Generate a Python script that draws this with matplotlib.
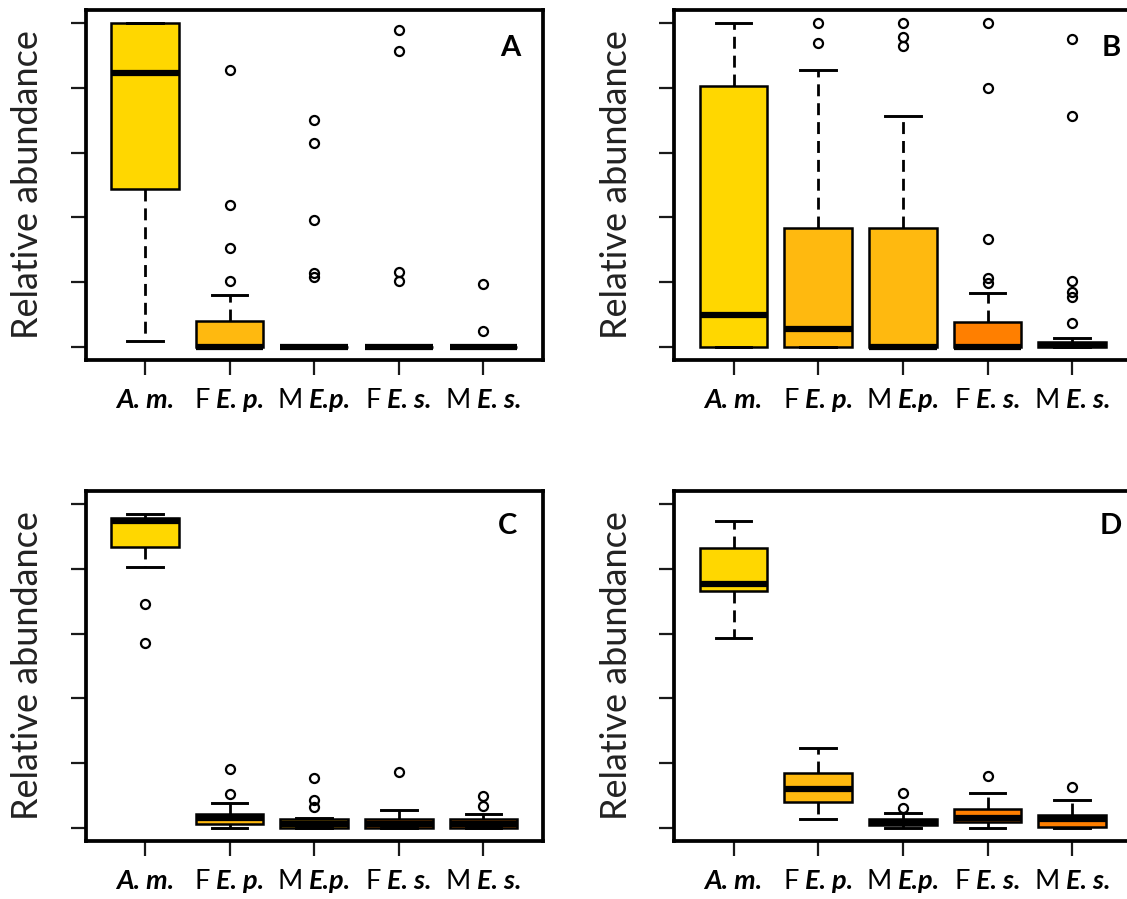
import matplotlib
matplotlib.use("Agg")
import matplotlib.pyplot as plt
from matplotlib.offsetbox import TextArea, HPacker, AnnotationBbox

plt.rcParams['font.family'] = ['Lato', 'DejaVu Sans']

# group labels: plain prefix + italic species part
label_prefix = ["", "F", "M", "F", "M"]
label_species = ["A. m.", "E. p.", "E.p.", "E. s.", "E. s."]
box_colors = ["#FFD700", "#FFB90F", "#FFB90F", "#FF7F00", "#FF7F00"]
panel_letters = ["A", "B", "C", "D"]

# panel A
a_q1 = [0.487, 0.0, 0.0, 0.0, 0.0]
a_med = [0.844, 0.0, 0.0, 0.0, 0.0]
a_q3 = [1.0, 0.08, 0.0, 0.0, 0.0]
a_lo = [0.018, 0.0, 0.0, 0.0, 0.0]
a_hi = [1.0, 0.16, 0.0, 0.0, 0.0]
a_out = [[], [0.204, 0.306, 0.439, 0.854],
         [0.702, 0.63, 0.391, 0.227, 0.215],
         [0.978, 0.913, 0.23, 0.203],
         [0.195, 0.049]]

# panel B
b_q1 = [0.0, 0.0, 0.0, 0.0, 0.0]
b_med = [0.1, 0.057, 0.0, 0.0, 0.005]
b_q3 = [0.806, 0.366, 0.366, 0.078, 0.016]
b_lo = [0.0, 0.0, 0.0, 0.0, 0.0]
b_hi = [1.0, 0.854, 0.712, 0.167, 0.027]
b_out = [[], [1.0, 0.938],
         [1.0, 0.957, 0.93],
         [1.0, 0.798, 0.332, 0.214, 0.198],
         [0.949, 0.712, 0.203, 0.17, 0.155, 0.075]]

# panel C
c_q1 = [0.866, 0.011, 0.0, 0.0, 0.0]
c_med = [0.948, 0.03, 0.012, 0.012, 0.012]
c_q3 = [0.957, 0.043, 0.027, 0.027, 0.027]
c_lo = [0.806, 0.0, 0.0, 0.0, 0.0]
c_hi = [0.97, 0.078, 0.031, 0.056, 0.043]
c_out = [[0.691, 0.57], [0.104, 0.182],
         [0.066, 0.086, 0.153],
         [0.172],
         [0.068, 0.099]]

# panel D
d_q1 = [0.731, 0.079, 0.009, 0.019, 0.004]
d_med = [0.753, 0.12, 0.018, 0.03, 0.028]
d_q3 = [0.863, 0.171, 0.028, 0.059, 0.04]
d_lo = [0.585, 0.027, 0.0, 0.0, 0.0]
d_hi = [0.948, 0.248, 0.045, 0.109, 0.086]
d_out = [[], [], [0.063, 0.107], [0.16], [0.127]]

panels = [
    (a_q1, a_med, a_q3, a_lo, a_hi, a_out),
    (b_q1, b_med, b_q3, b_lo, b_hi, b_out),
    (c_q1, c_med, c_q3, c_lo, c_hi, c_out),
    (d_q1, d_med, d_q3, d_lo, d_hi, d_out),
]

fig = plt.figure(figsize=(11.27, 8.99), dpi=100)

# axes rectangles in figure fraction
ax_rects = [
    [0.076, 0.5996, 0.4055, 0.3893],
    [0.5984, 0.5996, 0.4055, 0.3893],
    [0.076, 0.0645, 0.4055, 0.3893],
    [0.5984, 0.0645, 0.4055, 0.3893],
]
letter_x = [5.32, 5.46, 5.29, 5.46]
letter_y = [0.89, 0.89, 0.90, 0.90]


def make_stats(q1, med, q3, lo, hi, out):
    stats = []
    for i in range(len(q1)):
        stats.append(dict(q1=q1[i], med=med[i], q3=q3[i], whislo=lo[i],
                          whishi=hi[i], fliers=out[i]))
    return stats


for k, (q1, med, q3, lo, hi, out) in enumerate(panels):
    ax = fig.add_axes(ax_rects[k])
    stats = make_stats(q1, med, q3, lo, hi, out)
    bp = ax.bxp(stats, positions=range(1, 6), widths=0.8, capwidths=0.42,
                patch_artist=True, manage_ticks=False,
                boxprops=dict(edgecolor="black", linewidth=1.8),
                medianprops=dict(color="black", linewidth=4.5, solid_capstyle="butt"),
                whiskerprops=dict(color="black", linewidth=2.0, linestyle=(0, (4.3, 2.5))),
                capprops=dict(color="black", linewidth=2.1),
                flierprops=dict(marker="o", markersize=6.5, markerfacecolor="none",
                                markeredgecolor="black", markeredgewidth=1.6))
    for patch, col in zip(bp["boxes"], box_colors):
        patch.set_facecolor(col)

    ax.set_xlim(0.3, 5.7)
    ax.set_ylim(-0.04, 1.04)
    ax.set_xticks(range(1, 6))
    ax.set_xticklabels([])
    ax.set_yticks([0, 0.2, 0.4, 0.6, 0.8, 1.0])
    ax.set_yticklabels([])
    ax.tick_params(length=10.8, width=1.6, color="#1a1a1a")
    for sp in ax.spines.values():
        sp.set_linewidth(2.7)

    ax.text(-0.127, 0.5, "Relative abundance", transform=ax.transAxes,
            rotation=90, ha="center", va="center", fontsize=26, color="#222222")
    ax.text(letter_x[k], letter_y[k], panel_letters[k],
            transform=ax.get_xaxis_transform(),
            ha="center", va="center", fontsize=21, fontweight="bold")

    # tick labels: upright prefix + bold italic species name
    for i in range(5):
        parts = []
        if label_prefix[i]:
            parts.append(TextArea(label_prefix[i], textprops=dict(fontsize=19.5, color="black")))
        parts.append(TextArea(label_species[i],
                              textprops=dict(fontsize=19.5, fontweight="bold",
                                             fontstyle="italic", color="black")))
        pack = HPacker(children=parts, align="baseline", pad=0, sep=4.5)
        ab = AnnotationBbox(pack, (i + 1, 0), xycoords=("data", "axes fraction"),
                            xybox=(0, -29), boxcoords="offset points",
                            box_alignment=(0.5, 0.5), frameon=False, pad=0)
        ax.add_artist(ab)

fig.savefig("out.png", dpi=100)
